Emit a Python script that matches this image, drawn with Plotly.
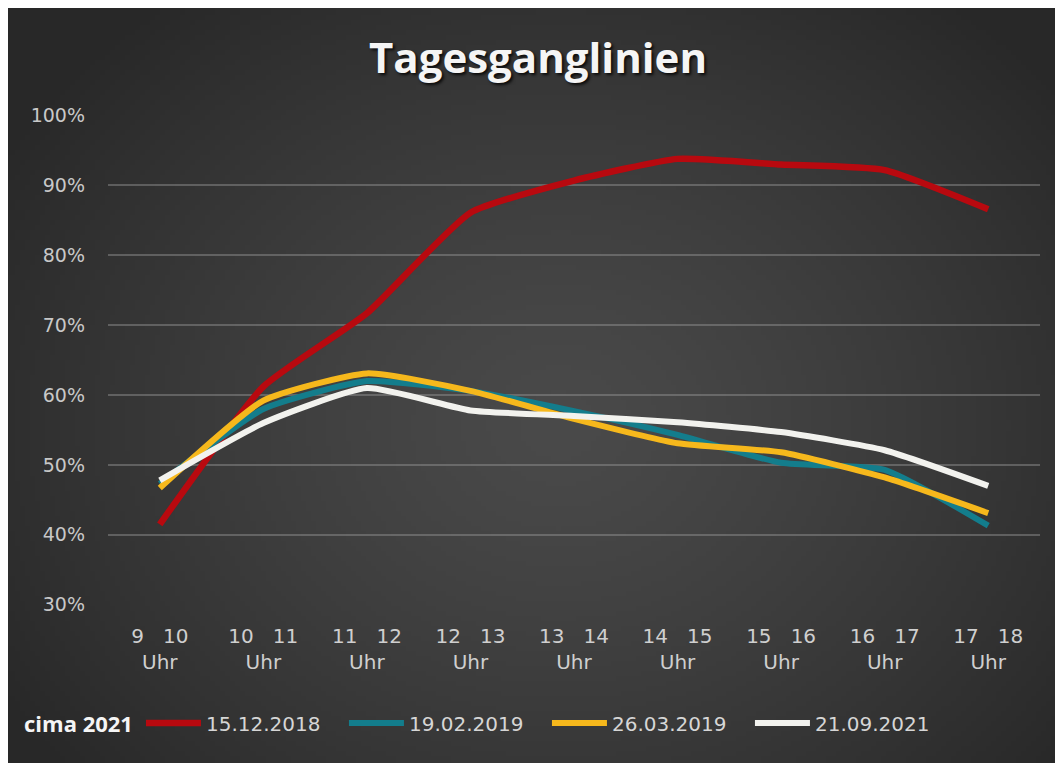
import zlib, struct, base64
import numpy as np
import plotly.graph_objects as go

# ---- data ----
categories = ["9\u00a0\u00a0\u00a010<br>Uhr", "10\u00a0\u00a0\u00a011<br>Uhr", "11\u00a0\u00a0\u00a012<br>Uhr",
              "12\u00a0\u00a0\u00a013<br>Uhr", "13\u00a0\u00a0\u00a014<br>Uhr", "14\u00a0\u00a0\u00a015<br>Uhr",
              "15\u00a0\u00a0\u00a016<br>Uhr", "16\u00a0\u00a0\u00a017<br>Uhr", "17\u00a0\u00a0\u00a018<br>Uhr"]
s_2018_12_15 = [0.415, 0.612, 0.717, 0.861, 0.907, 0.938, 0.930, 0.922, 0.866]
s_2019_02_19 = [0.473, 0.580, 0.620, 0.606, 0.577, 0.543, 0.503, 0.493, 0.413]
s_2019_03_26 = [0.467, 0.592, 0.631, 0.606, 0.566, 0.531, 0.518, 0.482, 0.431]
s_2021_09_21 = [0.478, 0.560, 0.610, 0.578, 0.570, 0.561, 0.547, 0.521, 0.470]
series_names = ["15.12.2018", "19.02.2019", "26.03.2019", "21.09.2021"]
y_ticks = [0.3, 0.4, 0.5, 0.6, 0.7, 0.8, 0.9, 1.0]
y_ticklabels = ["30%", "40%", "50%", "60%", "70%", "80%", "90%", "100%"]

# ---- gradient background image (radial) ----
def make_png(arr):
    h, w, _ = arr.shape
    raw = b"".join(b"\x00" + arr[r].astype(np.uint8).tobytes() for r in range(h))
    def chunk(t, d):
        c = struct.pack(">I", len(d)) + t + d
        return c + struct.pack(">I", zlib.crc32(t + d) & 0xffffffff)
    return (b"\x89PNG\r\n\x1a\n" + chunk(b"IHDR", struct.pack(">IIBBBBB", w, h, 8, 2, 0, 0, 0))
            + chunk(b"IDAT", zlib.compress(raw)) + chunk(b"IEND", b""))

W, H = 211, 151
yy, xx = np.mgrid[0:H, 0:W]
cx, cy = W * 0.52, H * 0.55
d = np.sqrt(((xx - cx) / (W * 0.62)) ** 2 + ((yy - cy) / (H * 0.72)) ** 2)
d = np.clip(d, 0, 1)
inner, outer = 74, 40
val = inner + (outer - inner) * d ** 1.3
img = np.stack([val, val, val], axis=-1)
src = "data:image/png;base64," + base64.b64encode(make_png(img)).decode()

colors = ["#b8090f", "#137d8c", "#f6b81c", "#f2f2ee"]
widths = [6.5, 6, 6, 6]
data = [s_2018_12_15, s_2019_02_19, s_2019_03_26, s_2021_09_21]

fig = go.Figure()
for name, ys, c, w in zip(series_names, data, colors, widths):
    fig.add_trace(go.Scatter(
        x=categories, y=ys, name=name, mode="lines",
        line=dict(color=c, width=w, shape="spline", smoothing=0.5),
    ))

# figure geometry (page has an 8px body margin)
FW, FH = 1055, 755
L, R, T, B = 100, 1032, 107, 597
PW, PH = R - L, B - T
def px(x):
    return (x - L) / PW
def py(y):
    return (B - y) / PH

fig.add_layout_image(dict(
    source=src, xref="paper", yref="paper",
    x=px(0), y=py(0), sizex=px(FW) - px(0), sizey=py(0) - py(FH),
    xanchor="left", yanchor="top", sizing="stretch", layer="below",
))

fig.update_layout(
    width=FW, height=FH,
    margin=dict(l=L, r=FW - R, t=T, b=FH - B, autoexpand=False),
    paper_bgcolor="#2b2b2b",
    plot_bgcolor="rgba(0,0,0,0)",
    title=dict(
        text="<b>Tagesganglinien</b>",
        x=px(530), xanchor="center", xref="paper",
        y=1 - 50 / FH, yanchor="middle",
        font=dict(family="Open Sans", size=42, color="#f5f5f5",
                  shadow="2px 2px 3px rgba(0,0,0,0.8)"),
    ),
    xaxis=dict(
        type="category", range=[-0.5, 8.5], showgrid=False, zeroline=False,
        showline=False, ticks="", ticklabelstandoff=17,
        tickfont=dict(family="DejaVu Sans", size=20, color="#cfcfcf"),
    ),
    yaxis=dict(
        range=[0.2995, 1.0008], tickvals=y_ticks, ticktext=y_ticklabels,
        showgrid=True, gridcolor="rgba(150,150,150,0.45)", gridwidth=2,
        zeroline=False, showline=False, ticks="", ticklabelstandoff=22,
        tickfont=dict(family="DejaVu Sans", size=19, color="#c8c8c8"),
    ),
    showlegend=True,
    legend=dict(
        orientation="h", x=px(14), xanchor="left", y=py(715), yanchor="middle",
        title=dict(text="<b>cima 2021</b>", side="left",
                   font=dict(family="Open Sans", size=22, color="#f5f5f5")),
        font=dict(family="DejaVu Sans", size=20, color="#d6d6d6"),
        bgcolor="rgba(0,0,0,0)", itemwidth=55,
        entrywidth=133, entrywidthmode="pixels",
    ),
)

fig.write_html("out.html")
